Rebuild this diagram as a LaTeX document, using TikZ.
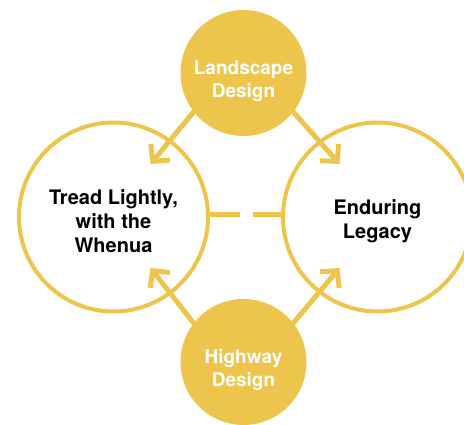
\documentclass[tikz,border=0pt]{standalone}
\usepackage{fontspec}
\setmainfont{TeX Gyre Heros}
\usetikzlibrary{arrows.meta}
\definecolor{gold}{RGB}{237,197,76}
\begin{document}
\begin{tikzpicture}[x=1pt,y=1pt,
  hub/.style={circle, fill=gold, minimum size=126pt, inner sep=0pt},
  hubtext/.style={text=white, inner sep=0pt,
    font=\fontsize{19}{23}\selectfont\bfseries, align=center},
  goal/.style={circle, draw=gold, line width=4pt, minimum size=189pt, inner sep=0pt},
  goaltext/.style={text=black, inner sep=0pt,
    font=\fontsize{20}{24}\selectfont\bfseries, align=center},
  arr/.style={draw=gold, line width=5pt, shorten <=-4pt,
    -{Straight Barb[length=12pt,width=25pt,line cap=butt,line join=miter]}},
  link/.style={draw=gold, line width=5pt, dash pattern=on 30pt off 13pt}]
\clip (0,0) rectangle (464,424);
\node[goal] (L) at (113.5,207) {};
\node[goal] (R) at (377.5,207) {};
\node[hub] (T) at (243.5,351) {};
\node[hub] (B) at (243.5,62) {};
\node[goaltext] (Lt) at ([yshift=-4pt]L.center) {Tread Lightly,\\with the\\Whenua};
\node[goaltext] (Rt) at ([yshift=-4pt]R.center) {Enduring\\Legacy};
\node[hubtext] (Tt) at ([yshift=-8pt]T.center) {Landscape\\Design};
\node[hubtext] (Bt) at ([yshift=-8pt]B.center) {Highway\\Design};
\coordinate (tTL) at (150.5,260);
\coordinate (tTR) at (339.5,260);
\coordinate (tBL) at (150.5,156);
\coordinate (tBR) at (339.5,156);
\draw[arr] (T.218) -- (tTL);
\draw[arr] (T.322) -- (tTR);
\draw[arr] (B.142) -- (tBL);
\draw[arr] (B.38) -- (tBR);
\draw[link] ([yshift=2pt]L.east) -- ([yshift=2pt]R.west);
\end{tikzpicture}
\end{document}
